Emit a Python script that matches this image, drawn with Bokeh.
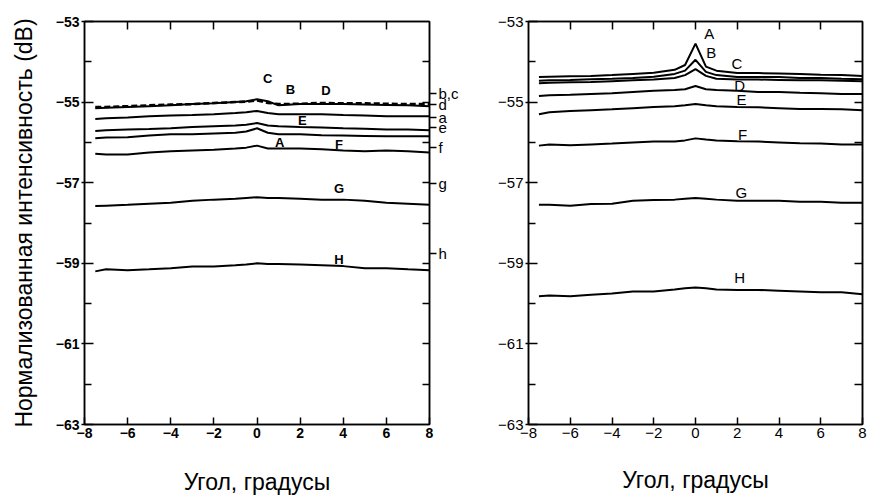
from bokeh.plotting import figure
from bokeh.layouts import row
from bokeh.models import LinearAxis, FixedTicker, Range1d
from bokeh.core.properties import value
from bokeh.embed import file_html
from bokeh.resources import INLINE

# ---------------- data ----------------
angle = [-7.5, -7, -6, -5, -4, -3, -2, -1, -0.5, 0, 0.5, 1, 2, 3, 4, 5, 6, 7, 8]

# left panel
L_C = [-55.15, -55.14, -55.12, -55.10, -55.08, -55.05, -55.03, -55.00, -54.98, -54.93, -54.98, -55.08, -55.05, -55.05, -55.05, -55.06, -55.07, -55.08, -55.10]
L_B = [-55.12, -55.12, -55.10, -55.08, -55.06, -55.05, -55.02, -55.00, -54.99, -54.96, -55.02, -55.05, -55.04, -55.02, -55.03, -55.03, -55.04, -55.05, -55.05]
L_D = [-55.42, -55.40, -55.38, -55.35, -55.33, -55.32, -55.30, -55.27, -55.25, -55.22, -55.27, -55.30, -55.30, -55.30, -55.32, -55.33, -55.35, -55.35, -55.35]
L_E = [-55.72, -55.70, -55.68, -55.67, -55.65, -55.62, -55.60, -55.58, -55.56, -55.52, -55.58, -55.60, -55.62, -55.63, -55.65, -55.66, -55.68, -55.68, -55.70]
L_A = [-55.90, -55.88, -55.87, -55.83, -55.80, -55.80, -55.78, -55.76, -55.73, -55.65, -55.76, -55.80, -55.80, -55.82, -55.83, -55.84, -55.85, -55.85, -55.85]
L_F = [-56.28, -56.30, -56.30, -56.25, -56.22, -56.20, -56.18, -56.15, -56.13, -56.08, -56.15, -56.15, -56.15, -56.17, -56.20, -56.22, -56.20, -56.22, -56.25]
L_G = [-57.58, -57.57, -57.55, -57.52, -57.50, -57.45, -57.42, -57.40, -57.38, -57.36, -57.38, -57.38, -57.40, -57.42, -57.42, -57.45, -57.50, -57.52, -57.55]
L_H = [-59.20, -59.15, -59.17, -59.15, -59.12, -59.08, -59.08, -59.05, -59.03, -59.00, -59.02, -59.02, -59.03, -59.05, -59.07, -59.12, -59.12, -59.15, -59.17]

left_solid = [L_C, L_D, L_E, L_A, L_F, L_G, L_H]
left_dashed = [L_B]

left_labels = ["C", "B", "D", "E", "A", "F", "G", "H"]
left_label_x = [0.5, 1.55, 3.2, 2.1, 1.05, 3.8, 3.8, 3.8]
left_label_y = [-54.41, -54.68, -54.70, -55.45, -56.00, -56.04, -57.15, -58.90]

# right-side letter marks of left panel
side_levels = [-54.78, -55.05, -55.38, -55.64, -56.13, -57.03, -58.75]
side_letters = ["b,c", "d", "a", "e", "f", "g", "h"]

# right panel
R_A = [-54.38, -54.37, -54.36, -54.35, -54.33, -54.30, -54.27, -54.20, -54.08, -53.55, -54.12, -54.22, -54.28, -54.28, -54.29, -54.30, -54.32, -54.33, -54.35]
R_B = [-54.47, -54.46, -54.45, -54.43, -54.42, -54.40, -54.37, -54.30, -54.22, -53.95, -54.25, -54.33, -54.38, -54.38, -54.38, -54.40, -54.40, -54.42, -54.43]
R_C = [-54.53, -54.52, -54.51, -54.50, -54.48, -54.46, -54.44, -54.40, -54.33, -54.18, -54.35, -54.42, -54.44, -54.44, -54.45, -54.46, -54.46, -54.47, -54.48]
R_D = [-54.85, -54.83, -54.82, -54.80, -54.78, -54.75, -54.72, -54.70, -54.68, -54.60, -54.68, -54.70, -54.72, -54.75, -54.75, -54.77, -54.78, -54.80, -54.80]
R_E = [-55.30, -55.25, -55.22, -55.20, -55.18, -55.15, -55.12, -55.10, -55.08, -55.05, -55.08, -55.10, -55.12, -55.13, -55.15, -55.17, -55.17, -55.18, -55.20]
R_F = [-56.08, -56.05, -56.07, -56.05, -56.03, -56.00, -55.98, -55.98, -55.95, -55.90, -55.93, -55.95, -55.97, -55.98, -56.00, -56.02, -56.03, -56.05, -56.05]
R_G = [-57.55, -57.55, -57.57, -57.53, -57.52, -57.45, -57.43, -57.42, -57.40, -57.38, -57.40, -57.42, -57.45, -57.45, -57.45, -57.47, -57.47, -57.50, -57.50]
R_H = [-59.82, -59.80, -59.82, -59.78, -59.75, -59.70, -59.70, -59.65, -59.62, -59.60, -59.62, -59.65, -59.66, -59.66, -59.68, -59.70, -59.72, -59.72, -59.77]

right_series = [R_A, R_B, R_C, R_D, R_E, R_F, R_G, R_H]
right_labels = ["A", "B", "C", "D", "E", "F", "G", "H"]
right_label_x = [0.66, 0.75, 1.98, 2.12, 2.2, 2.26, 2.2, 2.12]
right_label_y = [-53.29, -53.77, -54.04, -54.59, -54.93, -55.80, -57.24, -59.34]

x_ticks = [-8, -6, -4, -2, 0, 2, 4, 6, 8]
inner_x_ticks = [-6, -4, -2, 0, 2, 4, 6]
y_major = [-63, -61, -59, -57, -55, -53]
y_minor = [-62, -60, -58, -56, -54]
y_all = [-62, -61, -60, -59, -58, -57, -56, -55, -54]

FONT = "Liberation Sans"
X_TITLE = "Угол, градусы"
Y_TITLE = "Нормализованная интенсивность (dB)"


def blank_axis(ticks):
    return LinearAxis(ticker=FixedTicker(ticks=ticks, minor_ticks=[]),
                      major_tick_in=8, major_tick_out=0, major_tick_line_width=1.5,
                      axis_line_width=1.5,
                      major_label_overrides={t: "" for t in ticks})


def base_fig(width, height, bl, br, bt, bb, tick_font_size, tick_style, title_standoff):
    p = figure(width=width, height=height, x_range=Range1d(-8, 8), y_range=Range1d(-63, -53),
               output_backend="svg", toolbar_location=None,
               min_border_left=bl, min_border_right=br, min_border_top=bt, min_border_bottom=bb)
    p.grid.visible = False
    p.outline_line_color = "black"
    p.outline_line_width = 1.5
    p.background_fill_color = "white"
    p.border_fill_color = "white"

    xa = p.below[0]
    xa.ticker = FixedTicker(ticks=x_ticks, minor_ticks=[])
    xa.major_tick_in = 7
    xa.major_tick_out = 0
    xa.axis_line_width = 1.5
    xa.major_tick_line_width = 1.5
    xa.major_label_text_font = FONT
    xa.major_label_text_font_size = tick_font_size
    xa.major_label_text_font_style = tick_style
    xa.major_label_text_color = "black"
    xa.major_label_standoff = 3
    xa.axis_label = X_TITLE
    xa.axis_label_text_font = FONT
    xa.axis_label_text_font_size = "23px"
    xa.axis_label_text_font_style = "normal"
    xa.axis_label_text_color = "black"
    xa.axis_label_standoff = title_standoff

    ya = p.left[0]
    ya.ticker = FixedTicker(ticks=y_major, minor_ticks=y_minor)
    ya.major_tick_in = 9
    ya.major_tick_out = 3
    ya.minor_tick_in = 7
    ya.minor_tick_out = 0
    ya.axis_line_width = 1.5
    ya.major_tick_line_width = 1.5
    ya.minor_tick_line_width = 1.5
    ya.major_label_text_font = FONT
    ya.major_label_text_font_size = tick_font_size
    ya.major_label_text_font_style = tick_style
    ya.major_label_text_color = "black"
    ya.major_label_standoff = 2

    p.add_layout(blank_axis(inner_x_ticks), "above")
    return p


# ---------------- left panel ----------------
p1 = base_fig(470, 497, 84, 41, 21, 71, "14px", "bold", 28)
ya1 = p1.left[0]
ya1.axis_label = Y_TITLE
ya1.axis_label_text_font = FONT
ya1.axis_label_text_font_size = "23px"
ya1.axis_label_text_font_style = "normal"
ya1.axis_label_text_color = "black"
ya1.axis_label_standoff = 16

side = LinearAxis(ticker=FixedTicker(ticks=side_levels, minor_ticks=y_all),
                  major_tick_in=0, major_tick_out=7, minor_tick_in=7, minor_tick_out=0,
                  major_tick_line_width=1.5, minor_tick_line_width=1.5, axis_line_width=1.5,
                  major_label_overrides={lv: lt for lv, lt in zip(side_levels, side_letters)},
                  major_label_text_font=FONT, major_label_text_font_size="15px",
                  major_label_text_color="black", major_label_standoff=2)
p1.add_layout(side, "right")

for ys in left_solid:
    p1.line(angle, ys, line_color="black", line_width=2)
for ys in left_dashed:
    p1.line(angle, ys, line_color="black", line_width=2.5, line_dash="6 3")
p1.text(x=left_label_x, y=left_label_y, text=left_labels, text_align="center",
        text_baseline="middle", text_font=value(FONT), text_font_style="bold",
        text_font_size="13px", text_color="black")

# ---------------- right panel ----------------
p2 = base_fig(399, 497, 58, 7, 20, 64, "15px", "normal", 26)
p2.add_layout(blank_axis(y_all), "right")

for ys in right_series:
    p2.line(angle, ys, line_color="black", line_width=2)
p2.text(x=right_label_x, y=right_label_y, text=right_labels, text_align="center",
        text_baseline="middle", text_font=value(FONT),
        text_font_size="15px", text_color="black")

layout = row(p1, p2)
open("out.html", "w").write(file_html(layout, INLINE))
